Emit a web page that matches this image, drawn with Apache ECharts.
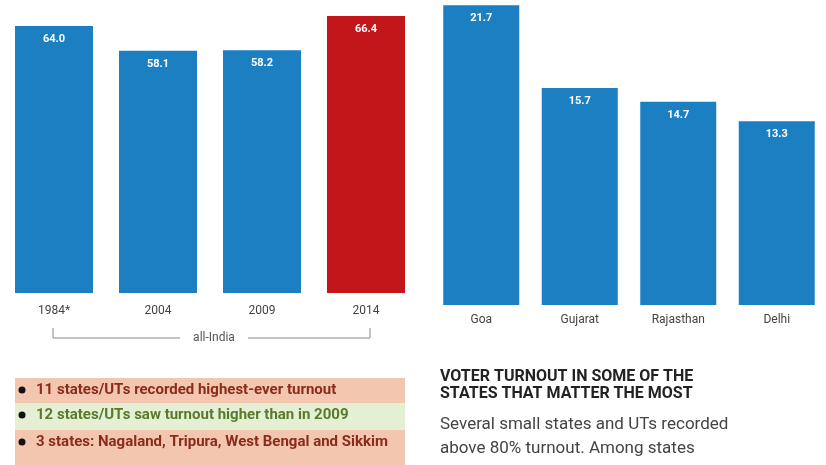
<!DOCTYPE html>
<html><head><meta charset="utf-8">
<script src="https://cdn.jsdelivr.net/npm/echarts@6/dist/echarts.min.js"></script>
<style>html,body{margin:0;padding:0;background:#fff}#c{width:826px;height:465px}</style>
</head><body><div id="c"></div>
<script>
const yearCats = ['1984*', '2004', '2009', '2014'];
const yearTurnout = [64.0, 58.1, 58.2, 66.4];
const stateCats = ['Goa', 'Gujarat', 'Rajasthan', 'Delhi'];
const stateValues = [21.7, 15.7, 14.7, 13.3];
const bracketLabel = 'all-India';
const notes = [
  '11 states/UTs recorded highest-ever turnout',
  '12 states/UTs saw turnout higher than in 2009',
  '3 states: Nagaland, Tripura, West Bengal and Sikkim'
];
const heading = ['VOTER TURNOUT IN SOME OF THE', 'STATES THAT MATTER THE MOST'];
const body = ['Several small states and UTs recorded', 'above 80% turnout. Among states'];

const BLUE = '#1b7fc2', RED = '#c3161b';
const chart = echarts.init(document.getElementById('c'));
const font = 'Roboto, "Noto Sans", sans-serif';
const labelCfg = {show: true, position: 'insideTop', distance: 8, color: '#fff', fontWeight: 'bold', fontSize: 11, fontFamily: font, formatter: p => p.value.toFixed(1)};
const axisLabelCfg = (m) => ({color: '#444', fontSize: 12, fontFamily: font, margin: m});

const noteColors = [['#f3c6b0', '#8a2c1b'], ['#e5efd3', '#587a2c'], ['#f3c6b0', '#8a2c1b']];
const noteY = [378, 403, 430], noteH = [25, 27, 35];
const graphics = [];
notes.forEach((t, i) => {
  graphics.push({type: 'rect', shape: {x: 15, y: noteY[i], width: 390, height: noteH[i]}, style: {fill: noteColors[i][0]}});
  graphics.push({type: 'circle', shape: {cx: 22, cy: noteY[i] + 12, r: 3.5}, style: {fill: '#111'}});
  graphics.push({type: 'text', x: 36, y: noteY[i] + 12, style: {text: t, fill: noteColors[i][1], font: 'bold 15px ' + font, textVerticalAlign: 'middle'}});
});
graphics.push({type: 'polyline', shape: {points: [[53, 328], [53, 338], [180, 338]]}, style: {stroke: '#888', lineWidth: 1, fill: null}});
graphics.push({type: 'polyline', shape: {points: [[248, 338], [370, 338], [370, 328]]}, style: {stroke: '#888', lineWidth: 1, fill: null}});
graphics.push({type: 'text', x: 214, y: 338, style: {text: bracketLabel, fill: '#555', font: '12px ' + font, textAlign: 'center', textVerticalAlign: 'middle'}});
heading.forEach((t, i) => graphics.push({type: 'text', x: 440, y: 377 + i * 17, style: {text: t, fill: '#222', font: 'bold 16px ' + font, textVerticalAlign: 'middle'}}));
body.forEach((t, i) => graphics.push({type: 'text', x: 440, y: 425 + i * 24, style: {text: t, fill: '#444', font: '17px ' + font, textVerticalAlign: 'middle'}}));

chart.setOption({
  animation: false,
  grid: [
    {left: 2, width: 416, top: 1, bottom: 172},
    {left: 432, width: 396, top: 1, bottom: 160}
  ],
  xAxis: [
    {gridIndex: 0, type: 'category', data: yearCats, axisLine: {show: false}, axisTick: {show: false}, axisLabel: axisLabelCfg(12)},
    {gridIndex: 1, type: 'category', data: stateCats, axisLine: {show: false}, axisTick: {show: false}, axisLabel: axisLabelCfg(9)}
  ],
  yAxis: [
    {gridIndex: 0, type: 'value', min: 0, max: 70, show: false, splitLine: {show: false}},
    {gridIndex: 1, type: 'value', min: 0, max: 22, show: false, splitLine: {show: false}}
  ],
  series: [
    {type: 'bar', xAxisIndex: 0, yAxisIndex: 0, barWidth: 78, label: labelCfg,
     data: yearTurnout.map((v, i) => ({value: v, itemStyle: {color: i === yearTurnout.length - 1 ? RED : BLUE}}))},
    {type: 'bar', xAxisIndex: 1, yAxisIndex: 1, barWidth: 76, label: labelCfg,
     data: stateValues, itemStyle: {color: BLUE}}
  ],
  graphic: graphics
});
</script></body></html>
